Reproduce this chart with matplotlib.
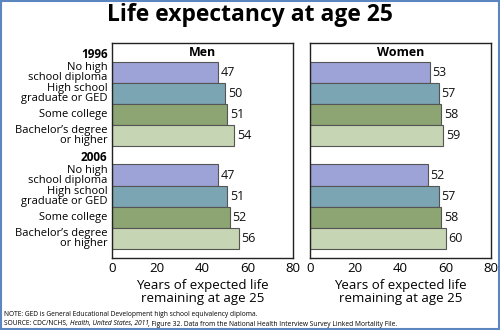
import matplotlib
matplotlib.use("Agg")
import matplotlib.pyplot as plt
from matplotlib.patches import Rectangle

plt.rcParams['font.family'] = ['Open Sans', 'DejaVu Sans']

years = ["1996", "2006"]
categories = ["No high\nschool diploma", "High school\ngraduate or GED",
              "Some college", "Bachelor\u2019s degree\nor higher"]
men = {"1996": [47, 50, 51, 54], "2006": [47, 51, 52, 56]}
women = {"1996": [53, 57, 58, 59], "2006": [52, 57, 58, 60]}
colors = ["#9DA3D6", "#7BA5B3", "#8DA572", "#C6D5B3"]
xticks = [0, 20, 40, 60, 80]

fig = plt.figure(figsize=(5.0, 3.3), dpi=100)
W, H = 500, 330

def ax_rect(x0, x1, y0, y1):
    return [x0 / W, 1 - y1 / H, (x1 - x0) / W, (y1 - y0) / H]

axL = fig.add_axes(ax_rect(112, 293, 43, 258))
axR = fig.add_axes(ax_rect(310, 491, 43, 258))

group_gap = 1.85
positions = []
for g in range(len(years)):
    for i in range(len(categories)):
        positions.append(g * (len(categories) + group_gap - 1) + i)

for ax, data, title in [(axL, men, "Men"), (axR, women, "Women")]:
    vals = []
    for y in years:
        vals += data[y]
    cols = colors * len(years)
    ax.barh(positions, vals, height=1.0, color=cols, edgecolor="#555555", linewidth=0.8)
    for p, v in zip(positions, vals):
        ax.text(v + 1.2, p, str(v), va="center", ha="left", fontsize=9, color="#111111")
    ax.set_xlim(0, 80)
    ax.set_ylim(positions[-1] + 0.5 + 0.42, -1.39)
    ax.set_xticks(xticks)
    ax.set_xticklabels([str(t) for t in xticks], fontsize=9.5)
    ax.tick_params(axis="x", length=0, pad=3)
    ax.set_yticks([])
    for s in ax.spines.values():
        s.set_color("#222222")
        s.set_linewidth(1.0)
    ax.text(0.5, 0.956, title, transform=ax.transAxes, ha="center", va="center",
            fontsize=9, fontweight="bold")
    ax.set_xlabel("Years of expected life\nremaining at age 25", fontsize=9.5,
                  linespacing=1.0, labelpad=3)

# y labels on left axis
for g, y in enumerate(years):
    base = g * (len(categories) + group_gap - 1)
    axL.text(-0.025, base - 0.84, y, transform=axL.get_yaxis_transform(),
             ha="right", va="center", fontsize=8.5, fontweight="bold")
    for i, c in enumerate(categories):
        axL.text(-0.025, positions[g * len(categories) + i], c,
                 transform=axL.get_yaxis_transform(), ha="right", va="center",
                 fontsize=8, linespacing=0.88)

fig.text(0.5, 1 - 15 / H, "Life expectancy at age 25", ha="center", va="center",
         fontsize=16.5, fontweight="bold")

fig.text(4 / W, 1 - 314 / H,
         "NOTE: GED is General Educational Development high school equivalency diploma.",
         ha="left", va="center", fontsize=4.8)

# SOURCE line with italic title, built from runs
runs = [("SOURCE: CDC/NCHS, ", "normal"), ("Health, United States, 2011", "italic"),
        (", Figure 32. Data from the National Health Interview Survey Linked Mortality File.", "normal")]
fig.canvas.draw()
renderer = fig.canvas.get_renderer()
x = 4 / W
for txt, style in runs:
    t = fig.text(x, 1 - 324 / H, txt, ha="left", va="center", fontsize=4.8, style=style)
    bb = t.get_window_extent(renderer=renderer)
    x += bb.width / W

fig.patches.append(Rectangle((0.001, 0.002), 0.996, 0.995, transform=fig.transFigure,
                             fill=False, edgecolor="#5B86C0", linewidth=1.5))

fig.savefig("out.png", dpi=100)
